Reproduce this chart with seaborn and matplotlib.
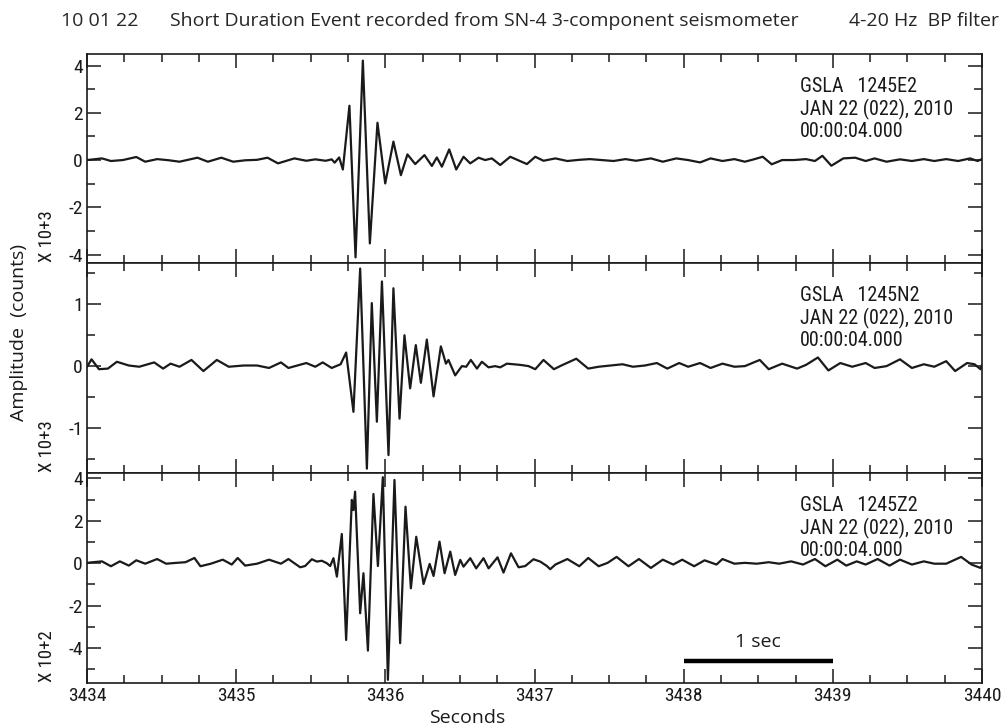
import matplotlib
matplotlib.use("Agg")
import matplotlib.pyplot as plt
import matplotlib.font_manager as fm
from matplotlib.ticker import MultipleLocator
import seaborn as sns
import pandas as pd

# waveform picks (time in s, amplitude in the panel's scaled units)
e_trace = [(3434.00, 0), (3434.10, 0.07), (3434.16, -0.04), (3434.24, 0), (3434.33, 0.13),
           (3434.39, -0.07), (3434.47, 0.04), (3434.55, -0.01), (3434.62, -0.07), (3434.74, 0.10),
           (3434.81, -0.07), (3434.90, 0.10), (3434.98, -0.07), (3435.06, -0.01), (3435.14, 0.01),
           (3435.21, 0.10), (3435.28, -0.14), (3435.39, 0.07), (3435.47, -0.03), (3435.53, 0.03),
           (3435.60, -0.03), (3435.64, 0.03), (3435.66, -0.11), (3435.69, 0.11), (3435.715, -0.40),
           (3435.759, 2.30), (3435.800, -4.12), (3435.849, 4.21), (3435.896, -3.53), (3435.947, 1.58),
           (3435.999, -0.99), (3436.054, 0.78), (3436.104, -0.64), (3436.148, 0.24), (3436.200, -0.17),
           (3436.262, 0.21), (3436.312, -0.25), (3436.345, 0.11), (3436.379, -0.28), (3436.428, 0.45),
           (3436.475, -0.40), (3436.524, 0.14), (3436.569, -0.14), (3436.625, 0.10), (3436.669, 0),
           (3436.714, 0.07), (3436.770, -0.21), (3436.837, 0.14), (3436.949, -0.17), (3437.005, 0.14),
           (3437.06, -0.03), (3437.14, 0.07), (3437.22, -0.04), (3437.30, 0.01), (3437.37, 0.04),
           (3437.45, 0), (3437.53, -0.04), (3437.61, 0.04), (3437.68, -0.03), (3437.78, 0.07),
           (3437.86, -0.07), (3437.95, 0.07), (3438.03, 0), (3438.11, -0.10), (3438.18, 0.07),
           (3438.26, -0.04), (3438.34, 0.04), (3438.41, -0.07), (3438.47, 0.03), (3438.53, 0.14),
           (3438.59, -0.18), (3438.66, 0), (3438.74, 0), (3438.82, 0.04), (3438.88, -0.04),
           (3438.93, 0.18), (3438.99, -0.24), (3439.07, 0.07), (3439.15, 0.10), (3439.22, -0.04),
           (3439.28, 0.07), (3439.36, -0.07), (3439.45, 0.03), (3439.53, -0.04), (3439.61, 0.04),
           (3439.68, -0.04), (3439.76, 0.04), (3439.84, -0.04), (3439.92, 0.07), (3439.97, -0.04),
           (3440.00, 0.04)]

n_trace = [(3434.00, -0.01), (3434.03, 0.11), (3434.08, -0.05), (3434.14, -0.04), (3434.20, 0.07),
           (3434.28, 0.01), (3434.35, -0.01), (3434.45, 0.06), (3434.51, -0.04), (3434.56, 0.04),
           (3434.62, -0.01), (3434.70, 0.10), (3434.78, -0.08), (3434.87, 0.10), (3434.95, -0.01),
           (3435.05, 0.01), (3435.14, 0.01), (3435.22, -0.03), (3435.30, 0.06), (3435.35, -0.03),
           (3435.47, 0.05), (3435.53, -0.01), (3435.58, 0.06), (3435.64, -0.03), (3435.70, 0.03),
           (3435.737, 0.22), (3435.786, -0.74), (3435.831, 1.58), (3435.876, -1.66), (3435.909, 1.02),
           (3435.943, -0.90), (3435.977, 1.37), (3436.021, -1.44), (3436.054, 1.26), (3436.095, -0.85),
           (3436.128, 0.50), (3436.166, -0.36), (3436.204, 0.34), (3436.238, -0.27), (3436.278, 0.43),
           (3436.323, -0.49), (3436.372, 0.32), (3436.406, 0.04), (3436.423, 0.10), (3436.468, -0.15),
           (3436.513, 0), (3436.542, -0.01), (3436.573, 0.10), (3436.614, -0.04), (3436.647, 0.07),
           (3436.692, -0.02), (3436.736, 0), (3436.770, -0.02), (3436.815, 0.04), (3436.904, 0.02),
           (3436.960, 0), (3437.005, -0.05), (3437.06, 0.10), (3437.13, -0.05), (3437.18, 0.01),
           (3437.28, 0.12), (3437.36, -0.04), (3437.43, -0.01), (3437.51, 0.01), (3437.59, 0.03),
           (3437.66, -0.01), (3437.74, 0.01), (3437.82, 0.05), (3437.89, -0.04), (3437.97, 0.05),
           (3438.03, -0.01), (3438.11, 0.05), (3438.18, -0.03), (3438.26, 0.04), (3438.34, -0.01),
           (3438.41, 0), (3438.51, 0.10), (3438.57, -0.05), (3438.66, 0.04), (3438.76, -0.04),
           (3438.82, 0.02), (3438.90, 0.14), (3438.97, -0.07), (3439.05, 0.05), (3439.13, -0.01),
           (3439.22, 0.05), (3439.28, -0.03), (3439.36, 0), (3439.45, 0.11), (3439.53, -0.03),
           (3439.61, 0.03), (3439.68, -0.01), (3439.76, 0.08), (3439.82, -0.08), (3439.90, 0.05),
           (3439.95, 0.03), (3439.99, -0.05), (3440.00, 0.02)]

z_trace = [(3434.00, 0.02), (3434.04, 0.05), (3434.10, 0.09), (3434.16, -0.14), (3434.22, 0.09),
           (3434.28, -0.11), (3434.33, 0.14), (3434.39, -0.02), (3434.47, 0.20), (3434.53, -0.02),
           (3434.60, 0.02), (3434.66, 0.05), (3434.72, 0.25), (3434.76, -0.14), (3434.83, -0.02),
           (3434.91, 0.17), (3434.97, -0.06), (3435.01, 0.25), (3435.06, -0.11), (3435.14, -0.02),
           (3435.22, 0.17), (3435.30, -0.02), (3435.35, 0.20), (3435.429, -0.19), (3435.462, -0.13),
           (3435.507, 0.19), (3435.541, 0.08), (3435.574, 0.12), (3435.608, 0), (3435.630, -0.13),
           (3435.652, 0.24), (3435.675, -0.63), (3435.708, 1.38), (3435.737, -3.62), (3435.775, 2.99),
           (3435.786, 2.51), (3435.797, 3.38), (3435.831, -2.36), (3435.853, -0.47), (3435.883, -4.12),
           (3435.920, 3.27), (3435.950, -0.13), (3435.983, 4.06), (3436.017, -5.50), (3436.061, 3.93),
           (3436.099, -3.77), (3436.135, 2.67), (3436.171, -1.18), (3436.207, 1.25), (3436.256, -0.98),
           (3436.297, -0.03), (3436.323, -0.60), (3436.363, 1.02), (3436.397, -0.47), (3436.435, 0.55),
           (3436.468, -0.55), (3436.502, 0.16), (3436.524, -0.16), (3436.569, 0.24), (3436.609, -0.24),
           (3436.658, 0.24), (3436.692, -0.24), (3436.752, 0.28), (3436.792, -0.44), (3436.842, 0.47),
           (3436.893, -0.19), (3436.938, -0.13), (3436.993, 0.19), (3437.038, 0.08), (3437.083, -0.13),
           (3437.105, -0.28), (3437.14, -0.06), (3437.22, 0.20), (3437.30, -0.14), (3437.36, 0.25),
           (3437.43, -0.14), (3437.49, 0.02), (3437.55, 0.30), (3437.63, -0.14), (3437.70, 0.20),
           (3437.78, -0.22), (3437.86, 0.17), (3437.93, -0.06), (3437.99, 0.17), (3438.07, -0.14),
           (3438.14, 0.14), (3438.22, -0.06), (3438.26, 0.20), (3438.34, -0.02), (3438.41, 0.02),
           (3438.49, -0.02), (3438.57, 0.05), (3438.64, -0.02), (3438.72, 0.09), (3438.80, -0.06),
           (3438.88, 0.20), (3438.95, -0.14), (3439.03, 0.17), (3439.09, -0.11), (3439.16, 0.09),
           (3439.22, -0.06), (3439.30, 0.20), (3439.38, -0.11), (3439.45, 0.17), (3439.53, -0.06),
           (3439.61, 0.09), (3439.68, -0.02), (3439.76, -0.02), (3439.86, 0.30), (3439.93, -0.06),
           (3439.99, -0.22), (3440.00, -0.10)]

channels = ["1245E2", "1245N2", "1245Z2"]
scale_labels = ["X 10+3", "X 10+3", "X 10+2"]
y_limits = [(-4.36, 4.49), (-1.73, 1.67), (-5.65, 4.26)]
y_major = [2, 1, 2]
y_minor = [1, 0.5, 1]
x_ticks = [3434, 3435, 3436, 3437, 3438, 3439, 3440]
stamp = "JAN 22 (022), 2010\n00:00:04.000"
title_date = "10 01 22"
title_main = "Short Duration Event recorded from SN-4 3-component seismometer"
title_filter = "4-20 Hz  BP filter"
bar_start, bar_len, bar_level = 3438, 1.0, -4.6


def pick(cands):
    for c in cands:
        try:
            fm.findfont(fm.FontProperties(family=c), fallback_to_default=False)
            return c
        except ValueError:
            pass
    return "DejaVu Sans"


narrow = pick(["Roboto Condensed", "Liberation Sans Narrow", "DejaVu Sans Condensed", "Liberation Sans"])
humanist = pick(["Open Sans", "Noto Sans", "Lato"])

sns.set_style("ticks")
plt.rcParams["font.family"] = [narrow, "DejaVu Sans"]
plt.rcParams["axes.unicode_minus"] = False

fig = plt.figure(figsize=(10.04, 7.27), dpi=100)
rects = [(0.0867, 0.6382, 0.8914, 0.2875),
         (0.0867, 0.3494, 0.8914, 0.2889),
         (0.0867, 0.0605, 0.8914, 0.2889)]
traces = [e_trace, n_trace, z_trace]
ink = "#1a1a1a"

axes = []
for i, tr in enumerate(traces):
    ax = fig.add_axes(rects[i])
    df = pd.DataFrame(tr, columns=["t", "amp"])
    sns.lineplot(data=df, x="t", y="amp", ax=ax, color=ink, lw=1.6,
                 estimator=None, sort=False, solid_joinstyle="round")
    ax.set_xlim(3434, 3440)
    ax.set_ylim(*y_limits[i])
    ax.xaxis.set_major_locator(MultipleLocator(1))
    ax.xaxis.set_minor_locator(MultipleLocator(0.25))
    ax.yaxis.set_major_locator(MultipleLocator(y_major[i]))
    ax.yaxis.set_minor_locator(MultipleLocator(y_minor[i]))
    ax.tick_params(which="both", direction="in", top=True, right=True,
                   width=1.1, color=ink, labelsize=14, labelcolor=ink)
    ax.tick_params(which="major", length=10, pad=3)
    ax.tick_params(which="minor", length=5.5)
    for s in ax.spines.values():
        s.set_linewidth(1.2)
        s.set_color(ink)
    ax.set_xlabel("")
    ax.set_ylabel("")
    if i < 2:
        ax.set_xticklabels([])
    else:
        ax.set_xticks(x_ticks)
        ax.set_xticklabels([str(v) for v in x_ticks])
    ax.text(0.7966, 0.89, "GSLA   " + channels[i] + "\n" + stamp,
            transform=ax.transAxes, ha="left", va="top", fontsize=14.5,
            color=ink, linespacing=1.15)
    fig.text(0.047, rects[i][1] + 0.002, scale_labels[i], rotation=90,
             ha="center", va="bottom", fontsize=13.5, color=ink)
    axes.append(ax)

# 1 second scale bar
axz = axes[2]
axz.plot([bar_start, bar_start + bar_len], [bar_level, bar_level], color="black",
         lw=3.2, solid_capstyle="butt")
axz.text(bar_start + bar_len / 2, bar_level + 0.45, "1 sec", ha="center", va="bottom",
         fontsize=14, family=humanist, color=ink)

fig.text(0.465, 0.0055, "Seconds", ha="center", va="baseline", fontsize=14,
         family=humanist, color=ink)
fig.text(0.019, 0.542, "Amplitude  (counts)", rotation=90, ha="center", va="center",
         fontsize=14, family=humanist, color=ink)

fig.text(0.061, 0.971, title_date, ha="left", va="center", fontsize=14, family=humanist)
fig.text(0.169, 0.971, title_main, ha="left", va="center", fontsize=14, family=humanist)
fig.text(0.995, 0.971, title_filter, ha="right", va="center", fontsize=14, family=humanist)

fig.savefig("out.png", dpi=100)
